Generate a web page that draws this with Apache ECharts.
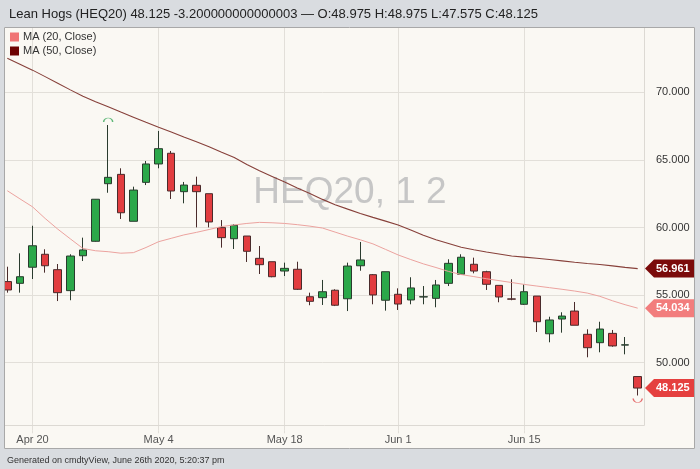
<!DOCTYPE html>
<html><head><meta charset="utf-8">
<script src="https://cdn.jsdelivr.net/npm/echarts@6/dist/echarts.min.js"></script>
<style>html,body{margin:0;padding:0;background:#d9dce0}#c{width:700px;height:469px}</style>
</head><body><div id="c"></div>
<script>
const dates = ['Apr 16','Apr 17','Apr 20','Apr 21','Apr 22','Apr 23','Apr 24','Apr 27','Apr 28','Apr 29','Apr 30',
  'May 1','May 4','May 5','May 6','May 7','May 8','May 11','May 12','May 13','May 14','May 15','May 18','May 19','May 20','May 21','May 22','May 26','May 27','May 28','May 29',
  'Jun 1','Jun 2','Jun 3','Jun 4','Jun 5','Jun 8','Jun 9','Jun 10','Jun 11','Jun 12','Jun 15','Jun 16','Jun 17','Jun 18','Jun 19','Jun 22','Jun 23','Jun 24','Jun 25','Jun 26'];
const openP  = [56.00,55.87,57.06,58.02,56.88,55.33,57.91,58.98,63.24,63.93,60.46,
  63.34,64.70,65.49,62.65,63.12,62.50,59.99,59.17,59.37,57.72,57.47,56.78,56.91,54.88,54.81,55.36,54.73,57.17,56.51,54.62,
  55.06,54.64,54.86,54.76,55.87,56.54,57.28,56.73,55.72,54.72,54.32,54.93,52.14,53.23,53.82,52.10,51.48,52.17,51.30,48.975];
const closeP = [55.38,56.36,58.65,57.17,55.18,57.89,58.34,62.09,63.71,61.09,62.77,
  64.70,65.83,62.70,63.14,62.65,60.41,59.25,60.16,58.24,57.25,56.36,56.98,55.43,54.54,55.25,54.25,57.15,57.60,55.01,56.73,
  54.34,55.53,54.88,55.75,57.35,57.80,56.78,55.80,54.86,54.70,55.25,53.03,53.16,53.45,52.77,51.11,52.49,51.24,51.325,48.125];
const lowP   = [55.18,55.18,56.19,56.66,54.56,54.62,57.52,58.95,62.57,60.63,60.46,
  63.14,64.38,62.11,61.79,60.01,60.01,58.51,58.41,57.45,56.56,56.32,56.41,55.38,54.25,54.27,54.19,53.82,56.80,54.32,53.85,
  53.90,54.32,54.32,54.10,55.67,56.54,56.61,55.38,54.47,54.62,54.27,52.27,51.51,52.22,52.77,50.40,50.77,51.18,50.62,47.575];
const highP  = [57.10,58.09,60.13,58.39,57.30,58.02,59.25,62.10,67.58,64.38,63.02,
  64.92,67.14,65.66,63.37,63.76,62.50,60.55,60.24,59.37,58.63,57.47,57.40,57.47,55.18,56.12,55.43,57.40,58.93,56.56,56.73,
  55.50,56.32,55.67,56.12,57.65,58.02,57.77,56.80,55.72,56.17,55.80,54.93,53.40,53.73,54.49,52.47,53.03,52.42,51.90,48.975];
const ma20 = [62.72,62.12,61.53,60.67,59.88,59.16,58.45,58.28,58.21,58.10,58.14,
  58.52,58.95,59.20,59.45,59.64,59.85,60.07,60.19,60.30,60.38,60.35,60.30,60.21,60.10,59.96,59.66,59.36,59.09,58.79,58.38,
  57.97,57.63,57.31,57.04,56.75,56.52,56.37,56.21,56.07,55.93,55.79,55.67,55.55,55.43,55.30,55.15,54.91,54.58,54.29,54.034];
const ma50 = [72.51,72.08,71.64,71.16,70.67,70.18,69.70,69.30,68.93,68.54,68.16,
  67.78,67.41,67.06,66.70,66.35,65.97,65.57,65.18,64.66,64.19,63.78,63.36,62.93,62.51,62.08,61.69,61.36,61.04,60.75,60.47,
  60.18,59.81,59.43,59.10,58.82,58.54,58.36,58.19,58.04,57.89,57.81,57.73,57.63,57.53,57.43,57.34,57.26,57.16,57.05,56.961];
const xTickLabels = ['Apr 20','May 4','May 18','Jun 1','Jun 15'];
const yTickValues = [50,55,60,65,70];
const seriesNames = ['MA (20, Close)','MA (50, Close)'];
const symbolName = 'Lean Hogs (HEQ20)';
const changeText = '-3.200000000000003';
const watermarkText = 'HEQ20, 1 2';
const footerText = 'Generated on cmdtyView, June 26th 2020, 5:20:37 pm';

const FONT = '"Liberation Sans", Arial, sans-serif';
const last = dates.length - 1;
const candleData = dates.map((d, i) => [openP[i], closeP[i], lowP[i], highP[i]]);
let hiIdx = 0, loIdx = 0;
highP.forEach((v, i) => { if (v > highP[hiIdx]) hiIdx = i; });
lowP.forEach((v, i) => { if (v < lowP[loIdx]) loIdx = i; });
const isTick = (idx, val) => xTickLabels.indexOf(val) >= 0;

const option = {
  animation: false,
  backgroundColor: '#faf8f3',
  textStyle: { fontFamily: FONT },
  grid: { left: 1, top: 27, width: 643, height: 403.3, containLabel: false, outerBoundsMode: 'none' },
  legend: {
    data: [
      { name: seriesNames[0], itemStyle: { color: '#f07474' } },
      { name: seriesNames[1], itemStyle: { color: '#6e0202' } }
    ],
    orient: 'vertical', left: 10, top: 31, padding: 0,
    icon: 'rect', itemWidth: 9, itemHeight: 9, itemGap: 2,
    textStyle: { fontSize: 11, color: '#333', fontFamily: FONT, lineHeight: 12, padding: [0, 0, 0, -1] },
    selectedMode: false
  },
  xAxis: {
    type: 'category', data: dates, boundaryGap: true,
    axisLine: { show: false },
    axisTick: { show: true, alignWithLabel: true, interval: isTick, length: 3, lineStyle: { color: '#e2dfd9' } },
    axisLabel: { interval: isTick, fontSize: 11, color: '#555', margin: 4, fontFamily: FONT },
    splitLine: { show: false }
  },
  yAxis: {
    type: 'value', position: 'right', min: 45, max: 74.83, interval: 5, scale: true,
    axisLine: { show: false }, axisTick: { show: false },
    axisLabel: {
      fontSize: 11, color: '#333', margin: 12, fontFamily: FONT,
      showMinLabel: false, showMaxLabel: false,
      formatter: v => (yTickValues.indexOf(v) >= 0 ? v.toFixed(3) : '')
    },
    splitLine: { show: true, showMinLine: false, showMaxLine: false, lineStyle: { color: '#e2dfd9', width: 1 } }
  },
  series: [
    {
      name: 'HEQ20', type: 'candlestick', data: candleData, barWidth: 8,
      itemStyle: { color: '#2ba84a', color0: '#e23d40', borderColor: '#2a3b2e', borderColor0: '#4a2b2b', borderWidth: 1 },
      markLine: {
        silent: true, z: 0, symbol: ['none', 'none'], label: { show: false },
        lineStyle: { color: '#e2dfd9', type: 'solid', width: 1 },
        emphasis: { disabled: true },
        data: xTickLabels.map(d => ({ xAxis: d }))
      }
    },
    {
      name: seriesNames[0], type: 'line', data: ma20, symbol: 'none', smooth: false,
      itemStyle: { color: '#f07474' }, lineStyle: { color: '#eca39f', width: 1 }, z: 3
    },
    {
      name: seriesNames[1], type: 'line', data: ma50, symbol: 'none', smooth: false,
      itemStyle: { color: '#6e0202' }, lineStyle: { color: '#87403a', width: 1.1 }, z: 3
    },
    {
      name: 'extremes', type: 'scatter', z: 4, silent: true,
      data: [
        { value: [hiIdx, highP[hiIdx]], symbol: 'path://M0,10 A10,10 0 0 1 20,10', symbolSize: [9, 4], symbolOffset: [0, -5],
          itemStyle: { color: 'rgba(0,0,0,0)', borderColor: '#3aa85a', borderWidth: 1 } },
        { value: [loIdx, lowP[loIdx]], symbol: 'path://M0,0 A10,10 0 0 0 20,0', symbolSize: [9, 4], symbolOffset: [0, 5],
          itemStyle: { color: 'rgba(0,0,0,0)', borderColor: '#e0474a', borderWidth: 1 } }
      ]
    }
  ]
};

const chart = echarts.init(document.getElementById('c'), null, { renderer: 'canvas' });
chart.setOption(option);

function tag(id, value, color) {
  const y = chart.convertToPixel({ yAxisIndex: 0 }, value);
  return [
    { type: 'polygon', id: id + 'p', z: 50, shape: { points: [[645, y], [654, y - 9], [694, y - 9], [694, y + 9], [654, y + 9]] }, style: { fill: color } },
    { type: 'text', id: id + 't', z: 51, x: 656, y: y, style: { text: value.toFixed(3), fill: '#fff', font: 'bold 11px ' + FONT, align: 'left', verticalAlign: 'middle' } }
  ];
}

const title = symbolName + ' ' + closeP[last].toFixed(3) + ' ' + changeText + ' \u2014 O:' + openP[last].toFixed(3) +
  ' H:' + highP[last].toFixed(3) + ' L:' + lowP[last].toFixed(3) + ' C:' + closeP[last].toFixed(3);

const graphics = [
  { type: 'text', id: 'wm', z: 1, x: 350, y: 193, style: { text: watermarkText, fill: '#c6c6c6', font: '37px ' + FONT, align: 'center', verticalAlign: 'middle' } },
  { type: 'line', id: 'bRight', z: 1, shape: { x1: 644.5, y1: 27, x2: 644.5, y2: 425.5 }, style: { stroke: '#dcd9d3', lineWidth: 1 } },
  { type: 'line', id: 'bBottom', z: 1, shape: { x1: 4, y1: 425.5, x2: 644.5, y2: 425.5 }, style: { stroke: '#dcd9d3', lineWidth: 1 } },
  { type: 'rect', id: 'gTop', z: 100, shape: { x: 0, y: 0, width: 700, height: 27 }, style: { fill: '#d9dce0' } },
  { type: 'rect', id: 'gBot', z: 100, shape: { x: 0, y: 449, width: 700, height: 20 }, style: { fill: '#d9dce0' } },
  { type: 'rect', id: 'gL', z: 100, shape: { x: 0, y: 27, width: 4, height: 422 }, style: { fill: '#d9dce0' } },
  { type: 'rect', id: 'gR', z: 100, shape: { x: 695, y: 27, width: 5, height: 422 }, style: { fill: '#d9dce0' } },
  { type: 'rect', id: 'panel', z: 101, shape: { x: 4.5, y: 27.5, width: 690, height: 421 }, style: { fill: 'none', stroke: '#a8a8a8', lineWidth: 1 } },
  { type: 'text', id: 'title', z: 102, x: 9, y: 14, style: { text: title, fill: '#222', font: '13px ' + FONT, align: 'left', verticalAlign: 'middle' } },
  { type: 'text', id: 'foot', z: 102, x: 7, y: 461, style: { text: footerText, fill: '#333', font: '9px ' + FONT, align: 'left', verticalAlign: 'middle' } }
].concat(
  tag('t50', ma50[last], '#7b0b0b'),
  tag('t20', ma20[last], '#f27d7d'),
  tag('tc', closeP[last], '#e5403f')
);
chart.setOption({ graphic: { elements: graphics } });
</script>
</body></html>
